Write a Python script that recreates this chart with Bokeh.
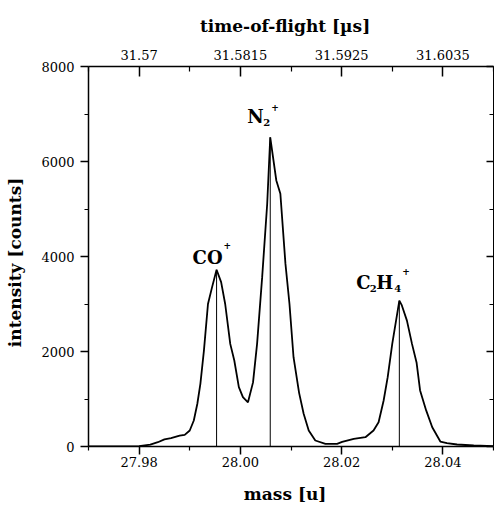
from bokeh.plotting import figure
from bokeh.models import LinearAxis, FixedTicker, NumeralTickFormatter, Range1d
from bokeh.core.properties import value
from bokeh.embed import file_html
from bokeh.resources import INLINE

# ---- data ----
mass = [27.970, 27.976, 27.980, 27.9822, 27.9837, 27.985, 27.9863, 27.988, 27.989,
        27.990, 27.9908, 27.9915, 27.9921, 27.9928, 27.9936, 27.9944, 27.9953,
        27.9962, 27.997, 27.998, 27.9988, 27.9997, 28.0005, 28.0015, 28.0025,
        28.0033, 28.0043, 28.0053, 28.0059, 28.0071, 28.0079, 28.0089, 28.0097,
        28.0105, 28.0116, 28.0125, 28.0135, 28.0148, 28.0168, 28.0191, 28.0201,
        28.0224, 28.0247, 28.0263, 28.0273, 28.0283, 28.0291, 28.0300, 28.0314,
        28.0319, 28.0329, 28.0339, 28.0348, 28.0355, 28.0367, 28.0379, 28.0395,
        28.0408, 28.0428, 28.0461, 28.0500]
counts = [0, 0, 10, 40, 90, 150, 175, 230, 245,
          337, 547, 900, 1320, 2020, 3000, 3350, 3720,
          3460, 3000, 2160, 1810, 1250, 1040, 930, 1350,
          2160, 3560, 5110, 6510, 5600, 5320, 3850, 3000,
          1880, 1130, 690, 337, 126, 57, 57, 98,
          160, 196, 337, 512, 968, 1460, 2160, 3070,
          2970, 2650, 2160, 1770, 1180, 760, 406, 105,
          70, 42, 21, 6]

peak_mass = [27.9953, 28.0059, 28.0314]
peak_counts = [3720, 6510, 3070]

mass_ticks = [27.98, 28.00, 28.02, 28.04]
mass_minor = [27.97, 27.99, 28.01, 28.03, 28.05]
tof_labels = ["31.57", "31.5815", "31.5925", "31.6035"]
count_ticks = [0, 2000, 4000, 6000, 8000]
count_minor = [1000, 3000, 5000, 7000]

FONT = "DejaVu Serif"

p = figure(width=494, height=506, output_backend="svg", toolbar_location=None,
           x_range=Range1d(27.97, 28.05), y_range=Range1d(0, 8000),
           min_border_left=88, min_border_right=1, min_border_top=66,
           min_border_bottom=60)
p.xgrid.visible = False
p.ygrid.visible = False
p.outline_line_color = None
p.background_fill_color = "white"
p.border_fill_color = "white"

def style_axis(ax):
    ax.axis_line_color = "black"
    ax.axis_line_width = 1.5
    ax.major_tick_line_color = "black"
    ax.major_tick_line_width = 1.5
    ax.minor_tick_line_color = "black"
    ax.minor_tick_line_width = 1.2
    ax.major_label_text_font = FONT
    ax.major_label_text_font_size = "13px"
    ax.major_label_text_color = "black"
    ax.axis_label_text_font = FONT
    ax.axis_label_text_font_style = "bold"
    ax.axis_label_text_font_size = "17px"
    ax.axis_label_text_color = "black"

# bottom axis
xa = p.xaxis[0]
xa.ticker = FixedTicker(ticks=mass_ticks, minor_ticks=mass_minor)
xa.formatter = NumeralTickFormatter(format="0.00")
xa.axis_label = "mass   [u]"
style_axis(xa)
xa.major_tick_out = 8
xa.major_tick_in = 0
xa.minor_tick_out = 4
xa.minor_tick_in = 0
xa.major_label_standoff = 2
xa.axis_label_standoff = 14

# left axis
ya = p.yaxis[0]
ya.ticker = FixedTicker(ticks=count_ticks, minor_ticks=count_minor)
ya.axis_label = "intensity   [counts]"
style_axis(ya)
ya.major_tick_out = 8
ya.major_tick_in = 0
ya.minor_tick_out = 4
ya.minor_tick_in = 0
ya.major_label_standoff = 6
ya.axis_label_standoff = 13

# top axis (time of flight)
top = LinearAxis(ticker=FixedTicker(ticks=mass_ticks, minor_ticks=mass_minor),
                 major_label_overrides={m: t for m, t in zip(mass_ticks, tof_labels)},
                 axis_label="time-of-flight   [µs]")
style_axis(top)
top.major_tick_out = 0
top.major_tick_in = 10
top.minor_tick_out = 0
top.minor_tick_in = 5
top.major_label_standoff = 7
top.axis_label_standoff = 11
p.add_layout(top, "above")

# right axis (ticks only)
right = LinearAxis(ticker=FixedTicker(ticks=count_ticks, minor_ticks=count_minor))
style_axis(right)
right.axis_line_width = 1
right.major_tick_out = 0
right.major_tick_in = 7
right.minor_tick_out = 0
right.minor_tick_in = 4
right.major_label_text_font_size = "0px"
right.major_label_text_color = None
right.major_label_standoff = 0
p.add_layout(right, "right")

# spectrum
p.line(mass, counts, line_color="black", line_width=1.8)
# peak markers
p.segment(x0=peak_mass, y0=[0] * 3, x1=peak_mass, y1=peak_counts,
          line_color="black", line_width=1)

# labels (pieces: text, size, dx, dy) anchored on each peak
pieces = [
    [("CO", 18, -24, -12), ("+", 9, 7, -24)],
    [("N", 18, -23, -21), ("2", 10, -7, -15), ("+", 9, 1, -30)],
    [("C", 18, -43, -18), ("2", 10, -29.5, -12), ("H", 18, -23, -18),
     ("4", 10, -5, -12), ("+", 9, 3, -29)],
]
for (px, py, parts) in zip(peak_mass, peak_counts, pieces):
    for (txt, size, dx, dy) in parts:
        p.text(x=[px], y=[py], text=[txt], x_offset=dx, y_offset=dy,
               text_font=value(FONT), text_font_style="bold",
               text_font_size=f"{size}px", text_color="black",
               text_align="left", text_baseline="alphabetic")

open("out.html", "w").write(file_html(p, INLINE))
